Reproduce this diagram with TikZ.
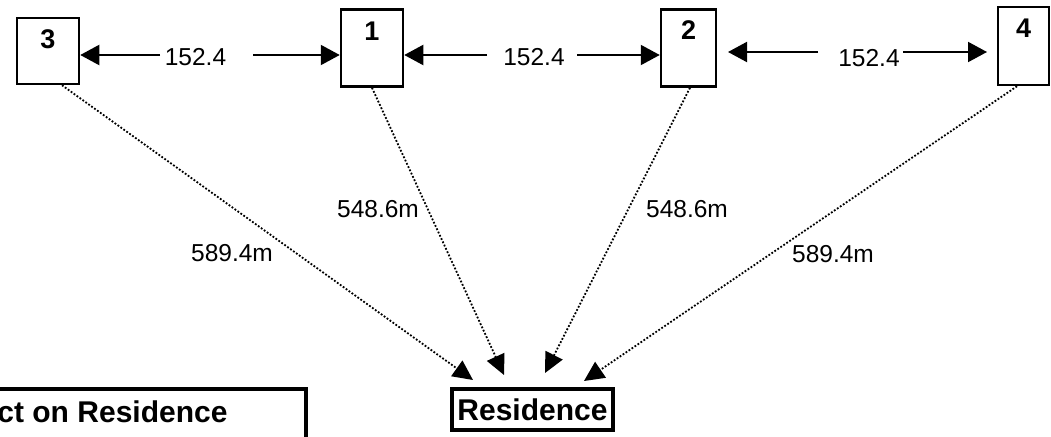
\documentclass[tikz,border=0pt]{standalone}
\usepackage{fontspec}
\setmainfont{Liberation Sans}
\usetikzlibrary{arrows.meta}
\begin{document}
\begin{tikzpicture}[x=1pt,y=-1pt,
  numbox/.style={draw, line width=2.5pt, inner sep=0pt},
  digit/.style={font=\fontsize{27}{31}\selectfont\bfseries, inner sep=0pt},
  dist/.style={font=\fontsize{24.5}{28}\selectfont, inner sep=0pt},
  harrow/.style={line width=2pt, -{Triangle[length=19pt,width=20pt]}},
  darrow/.style={line width=1.8pt, dash pattern=on 1.8pt off 1.8pt, -{Triangle[length=20pt,width=19pt]}},
  bigbox/.style={draw, line width=4pt, font=\fontsize{30}{34}\selectfont\bfseries}]
\useasboundingbox (0,0) rectangle (1051,436);

% numbered boxes
\node[numbox, minimum width=62pt, minimum height=66pt,
      label={[digit, anchor=center, yshift=-22pt]north:3}] (b3) at (48,51) {};
\node[numbox, minimum width=62pt, minimum height=77pt,
      label={[digit, anchor=center, yshift=-23pt]north:1}] (b1) at (372,48) {};
\node[numbox, minimum width=55pt, minimum height=77pt,
      label={[digit, anchor=center, yshift=-22pt]north:2}] (b2) at (688.5,48) {};
\node[numbox, minimum width=51pt, minimum height=78pt,
      label={[digit, anchor=center, yshift=-22pt]north:4}] (b4) at (1023.5,46) {};

% spacing labels
\node[dist] (l31) at (195.5,57) {152.4};
\node[dist] (l12) at (534,57) {152.4};
\node[dist] (l24) at (869,58) {152.4};

% horizontal arrows
\coordinate (h31a) at (160,55);
\coordinate (h31b) at (253,55);
\coordinate (h12a) at (487,55);
\coordinate (h12b) at (577,55);
\coordinate (h24a) at (818,52);
\coordinate (h24b) at (903,52);
\coordinate (h24l) at (728,52);
\coordinate (h24r) at (987,52);
\draw[harrow] (h31a) -- (h31a -| b3.east);
\draw[harrow] (h31b) -- (h31b -| b1.west);
\draw[harrow] (h12a) -- (h12a -| b1.east);
\draw[harrow] (h12b) -- (h12b -| b2.west);
\draw[harrow] (h24a) -- (h24l);
\draw[harrow] (h24b) -- (h24r);

% residence
\node[bigbox, minimum width=161pt, minimum height=41pt, inner sep=0pt] (res) at (532.5,409.5) {Residence};
\node[bigbox, anchor=north east, inner xsep=78pt, inner ysep=12pt,
      text height=21pt, text depth=6pt] (imp) at (307.5,387) {ct on Residence};

% dotted distance arrows
\coordinate (t3) at (473,380);
\coordinate (t1) at (504,375);
\coordinate (t2) at (545,373);
\coordinate (t4) at (584,381);
\draw[darrow] ([xshift=14pt]b3.south) -- (t3);
\draw[darrow] (b1.south) -- (t1);
\draw[darrow] ([xshift=1.5pt]b2.south) -- (t2);
\draw[darrow] ([xshift=-6.5pt]b4.south) -- (t4);

% distance labels
\node[dist] (d3) at (232,253) {589.4m};
\node[dist] (d1) at (378,209) {548.6m};
\node[dist] (d2) at (687,209) {548.6m};
\node[dist] (d4) at (833,254) {589.4m};
\end{tikzpicture}
\end{document}
